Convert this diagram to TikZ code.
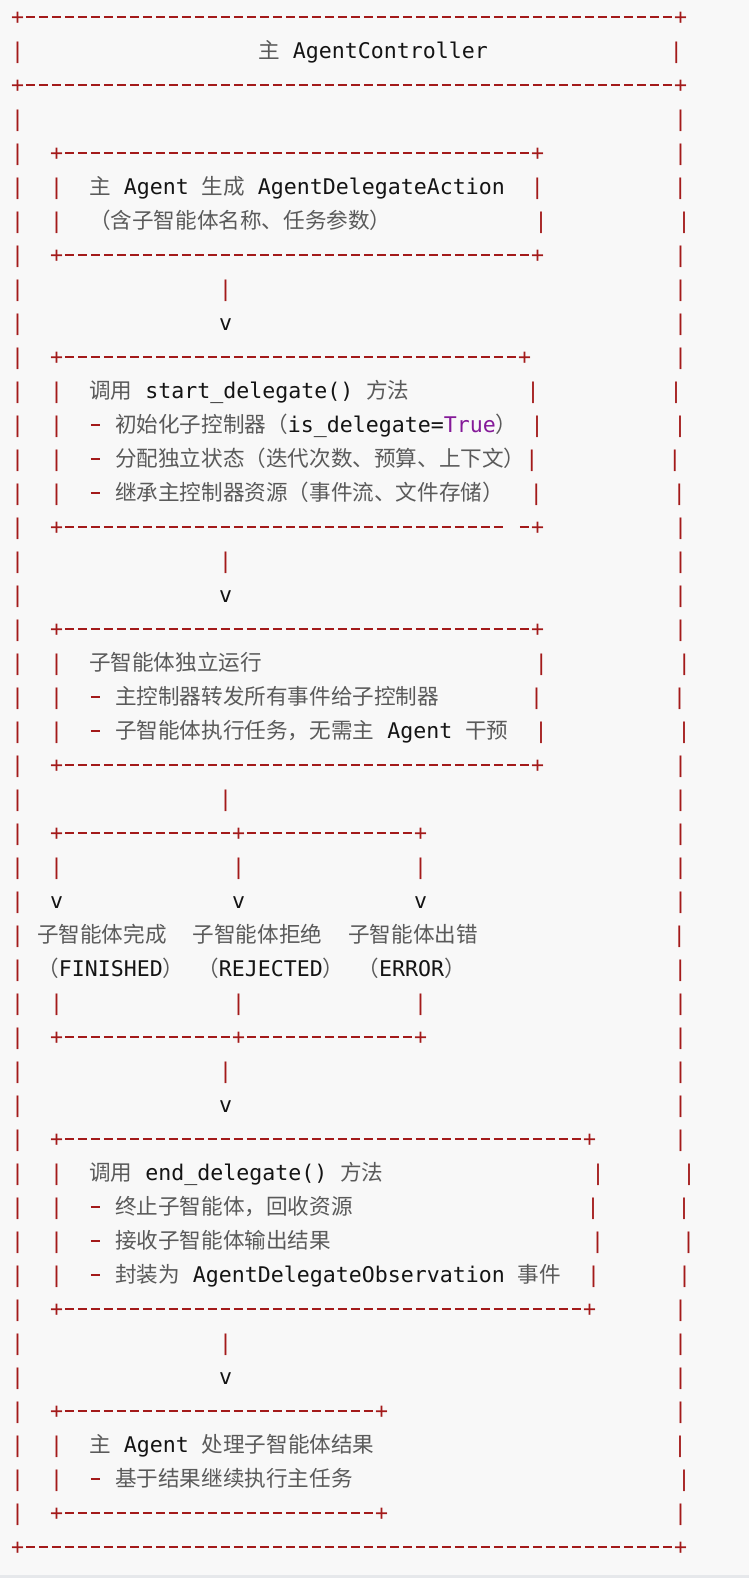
\documentclass[tikz,border=0pt]{standalone}
\usepackage{fontspec}
\newfontfamily\monof{DejaVu Sans Mono}
\newfontfamily\cjkf{Noto Sans CJK SC}
\definecolor{bgc}{HTML}{F8F8F8}
\definecolor{bxc}{HTML}{A31A1A}
\definecolor{cjkc}{HTML}{5A5A5A}
\definecolor{txtc}{HTML}{141414}
\definecolor{truc}{HTML}{851A99}
\definecolor{botc}{HTML}{E6E8EB}
\newlength\cwd
\setlength\cwd{9.75pt}
\newcommand\hy{\makebox[\cwd]{\rule[4.8pt]{7.1pt}{1.5pt}}}
\ExplSyntaxOn
\cs_new:Npn \dsh #1 { \prg_replicate:nn {#1} { \hy } }
\ExplSyntaxOff
\newcommand\bx[1]{{\color{bxc}#1}}
\newcommand\ck[1]{{\cjkf\color{cjkc}#1}}
\newcommand\sk[1]{\hspace*{#1\cwd}}
\newcommand\pp[1]{{\color{truc}#1}}
\tikzset{ln/.style={anchor=base west, inner sep=0pt, outer sep=0pt, text=txtc,
  font=\monof\fontsize{16.195pt}{20pt}\selectfont}}
\begin{document}
\begin{tikzpicture}[x=0.75pt,y=-0.75pt]
\useasboundingbox (0,0) rectangle (749,1578);
\fill[bgc] (0,0) rectangle (749,1578);
\fill[botc] (0,1575) rectangle (749,1578);
\node[ln] (l0) at (11.2,24.3) {\bx{+\dsh{50}+}};
\node[ln] (l1) at (11.2,58.3) {\bx{|}\sk{18}\ck{主}\sk{1}AgentController\sk{14}\bx{|}};
\node[ln] (l2) at (11.2,92.3) {\bx{+\dsh{50}+}};
\node[ln] (l3) at (11.2,126.3) {\bx{|}\sk{50}\bx{|}};
\node[ln] (l4) at (11.2,160.3) {\bx{|}\sk{2}\bx{+\dsh{36}+}\sk{10}\bx{|}};
\node[ln] (l5) at (11.2,194.3) {\bx{|}\sk{2}\bx{|}\sk{2}\ck{主}\sk{1}Agent\sk{1}\ck{生成}\sk{1}AgentDelegateAction\sk{2}\bx{|}\sk{10}\bx{|}};
\node[ln] (l6) at (11.2,228.3) {\bx{|}\sk{2}\bx{|}\sk{2}\ck{（含子智能体名称、任务参数）}\sk{11}\bx{|}\sk{10}\bx{|}};
\node[ln] (l7) at (11.2,262.3) {\bx{|}\sk{2}\bx{+\dsh{36}+}\sk{10}\bx{|}};
\node[ln] (l8) at (11.2,296.3) {\bx{|}\sk{15}\bx{|}\sk{34}\bx{|}};
\node[ln] (l9) at (11.2,330.3) {\bx{|}\sk{15}v\sk{34}\bx{|}};
\node[ln] (l10) at (11.2,364.3) {\bx{|}\sk{2}\bx{+\dsh{35}+}\sk{11}\bx{|}};
\node[ln] (l11) at (11.2,398.3) {\bx{|}\sk{2}\bx{|}\sk{2}\ck{调用}\sk{1}start\_delegate()\sk{1}\ck{方法}\sk{9}\bx{|}\sk{10}\bx{|}};
\node[ln] (l12) at (11.2,432.3) {\bx{|}\sk{2}\bx{|}\sk{2}\bx{\hy}\sk{1}\ck{初始化子控制器（}is\_delegate=\pp{True}\ck{）}\sk{1}\bx{|}\sk{10}\bx{|}};
\node[ln] (l13) at (11.2,466.3) {\bx{|}\sk{2}\bx{|}\sk{2}\bx{\hy}\sk{1}\ck{分配独立状态（迭代次数、预算、上下文）}\bx{|}\sk{10}\bx{|}};
\node[ln] (l14) at (11.2,500.3) {\bx{|}\sk{2}\bx{|}\sk{2}\bx{\hy}\sk{1}\ck{继承主控制器资源（事件流、文件存储）}\sk{2}\bx{|}\sk{10}\bx{|}};
\node[ln] (l15) at (11.2,534.3) {\bx{|}\sk{2}\bx{+\dsh{34}}\sk{1}\bx{\hy+}\sk{10}\bx{|}};
\node[ln] (l16) at (11.2,568.3) {\bx{|}\sk{15}\bx{|}\sk{34}\bx{|}};
\node[ln] (l17) at (11.2,602.3) {\bx{|}\sk{15}v\sk{34}\bx{|}};
\node[ln] (l18) at (11.2,636.3) {\bx{|}\sk{2}\bx{+\dsh{36}+}\sk{10}\bx{|}};
\node[ln] (l19) at (11.2,670.3) {\bx{|}\sk{2}\bx{|}\sk{2}\ck{子智能体独立运行}\sk{21}\bx{|}\sk{10}\bx{|}};
\node[ln] (l20) at (11.2,704.3) {\bx{|}\sk{2}\bx{|}\sk{2}\bx{\hy}\sk{1}\ck{主控制器转发所有事件给子控制器}\sk{7}\bx{|}\sk{10}\bx{|}};
\node[ln] (l21) at (11.2,738.3) {\bx{|}\sk{2}\bx{|}\sk{2}\bx{\hy}\sk{1}\ck{子智能体执行任务，无需主}\sk{1}Agent\sk{1}\ck{干预}\sk{2}\bx{|}\sk{10}\bx{|}};
\node[ln] (l22) at (11.2,772.3) {\bx{|}\sk{2}\bx{+\dsh{36}+}\sk{10}\bx{|}};
\node[ln] (l23) at (11.2,806.3) {\bx{|}\sk{15}\bx{|}\sk{34}\bx{|}};
\node[ln] (l24) at (11.2,840.3) {\bx{|}\sk{2}\bx{+\dsh{13}+\dsh{13}+}\sk{19}\bx{|}};
\node[ln] (l25) at (11.2,874.3) {\bx{|}\sk{2}\bx{|}\sk{13}\bx{|}\sk{13}\bx{|}\sk{19}\bx{|}};
\node[ln] (l26) at (11.2,908.3) {\bx{|}\sk{2}v\sk{13}v\sk{13}v\sk{19}\bx{|}};
\node[ln] (l27) at (11.2,942.3) {\bx{|}\sk{1}\ck{子智能体完成}\sk{2}\ck{子智能体拒绝}\sk{2}\ck{子智能体出错}\sk{15}\bx{|}};
\node[ln] (l28) at (11.2,976.3) {\bx{|}\sk{1}\ck{（}FINISHED\ck{）}\sk{1}\ck{（}REJECTED\ck{）}\sk{1}\ck{（}ERROR\ck{）}\sk{16}\bx{|}};
\node[ln] (l29) at (11.2,1010.3) {\bx{|}\sk{2}\bx{|}\sk{13}\bx{|}\sk{13}\bx{|}\sk{19}\bx{|}};
\node[ln] (l30) at (11.2,1044.3) {\bx{|}\sk{2}\bx{+\dsh{13}+\dsh{13}+}\sk{19}\bx{|}};
\node[ln] (l31) at (11.2,1078.3) {\bx{|}\sk{15}\bx{|}\sk{34}\bx{|}};
\node[ln] (l32) at (11.2,1112.3) {\bx{|}\sk{15}v\sk{34}\bx{|}};
\node[ln] (l33) at (11.2,1146.3) {\bx{|}\sk{2}\bx{+\dsh{40}+}\sk{6}\bx{|}};
\node[ln] (l34) at (11.2,1180.3) {\bx{|}\sk{2}\bx{|}\sk{2}\ck{调用}\sk{1}end\_delegate()\sk{1}\ck{方法}\sk{16}\bx{|}\sk{6}\bx{|}};
\node[ln] (l35) at (11.2,1214.3) {\bx{|}\sk{2}\bx{|}\sk{2}\bx{\hy}\sk{1}\ck{终止子智能体，回收资源}\sk{18}\bx{|}\sk{6}\bx{|}};
\node[ln] (l36) at (11.2,1248.3) {\bx{|}\sk{2}\bx{|}\sk{2}\bx{\hy}\sk{1}\ck{接收子智能体输出结果}\sk{20}\bx{|}\sk{6}\bx{|}};
\node[ln] (l37) at (11.2,1282.3) {\bx{|}\sk{2}\bx{|}\sk{2}\bx{\hy}\sk{1}\ck{封装为}\sk{1}AgentDelegateObservation\sk{1}\ck{事件}\sk{2}\bx{|}\sk{6}\bx{|}};
\node[ln] (l38) at (11.2,1316.3) {\bx{|}\sk{2}\bx{+\dsh{40}+}\sk{6}\bx{|}};
\node[ln] (l39) at (11.2,1350.3) {\bx{|}\sk{15}\bx{|}\sk{34}\bx{|}};
\node[ln] (l40) at (11.2,1384.3) {\bx{|}\sk{15}v\sk{34}\bx{|}};
\node[ln] (l41) at (11.2,1418.3) {\bx{|}\sk{2}\bx{+\dsh{24}+}\sk{22}\bx{|}};
\node[ln] (l42) at (11.2,1452.3) {\bx{|}\sk{2}\bx{|}\sk{2}\ck{主}\sk{1}Agent\sk{1}\ck{处理子智能体结果}\sk{23}\bx{|}};
\node[ln] (l43) at (11.2,1486.3) {\bx{|}\sk{2}\bx{|}\sk{2}\bx{\hy}\sk{1}\ck{基于结果继续执行主任务}\sk{25}\bx{|}};
\node[ln] (l44) at (11.2,1520.3) {\bx{|}\sk{2}\bx{+\dsh{24}+}\sk{22}\bx{|}};
\node[ln] (l45) at (11.2,1554.3) {\bx{+\dsh{50}+}};
\end{tikzpicture}
\end{document}
